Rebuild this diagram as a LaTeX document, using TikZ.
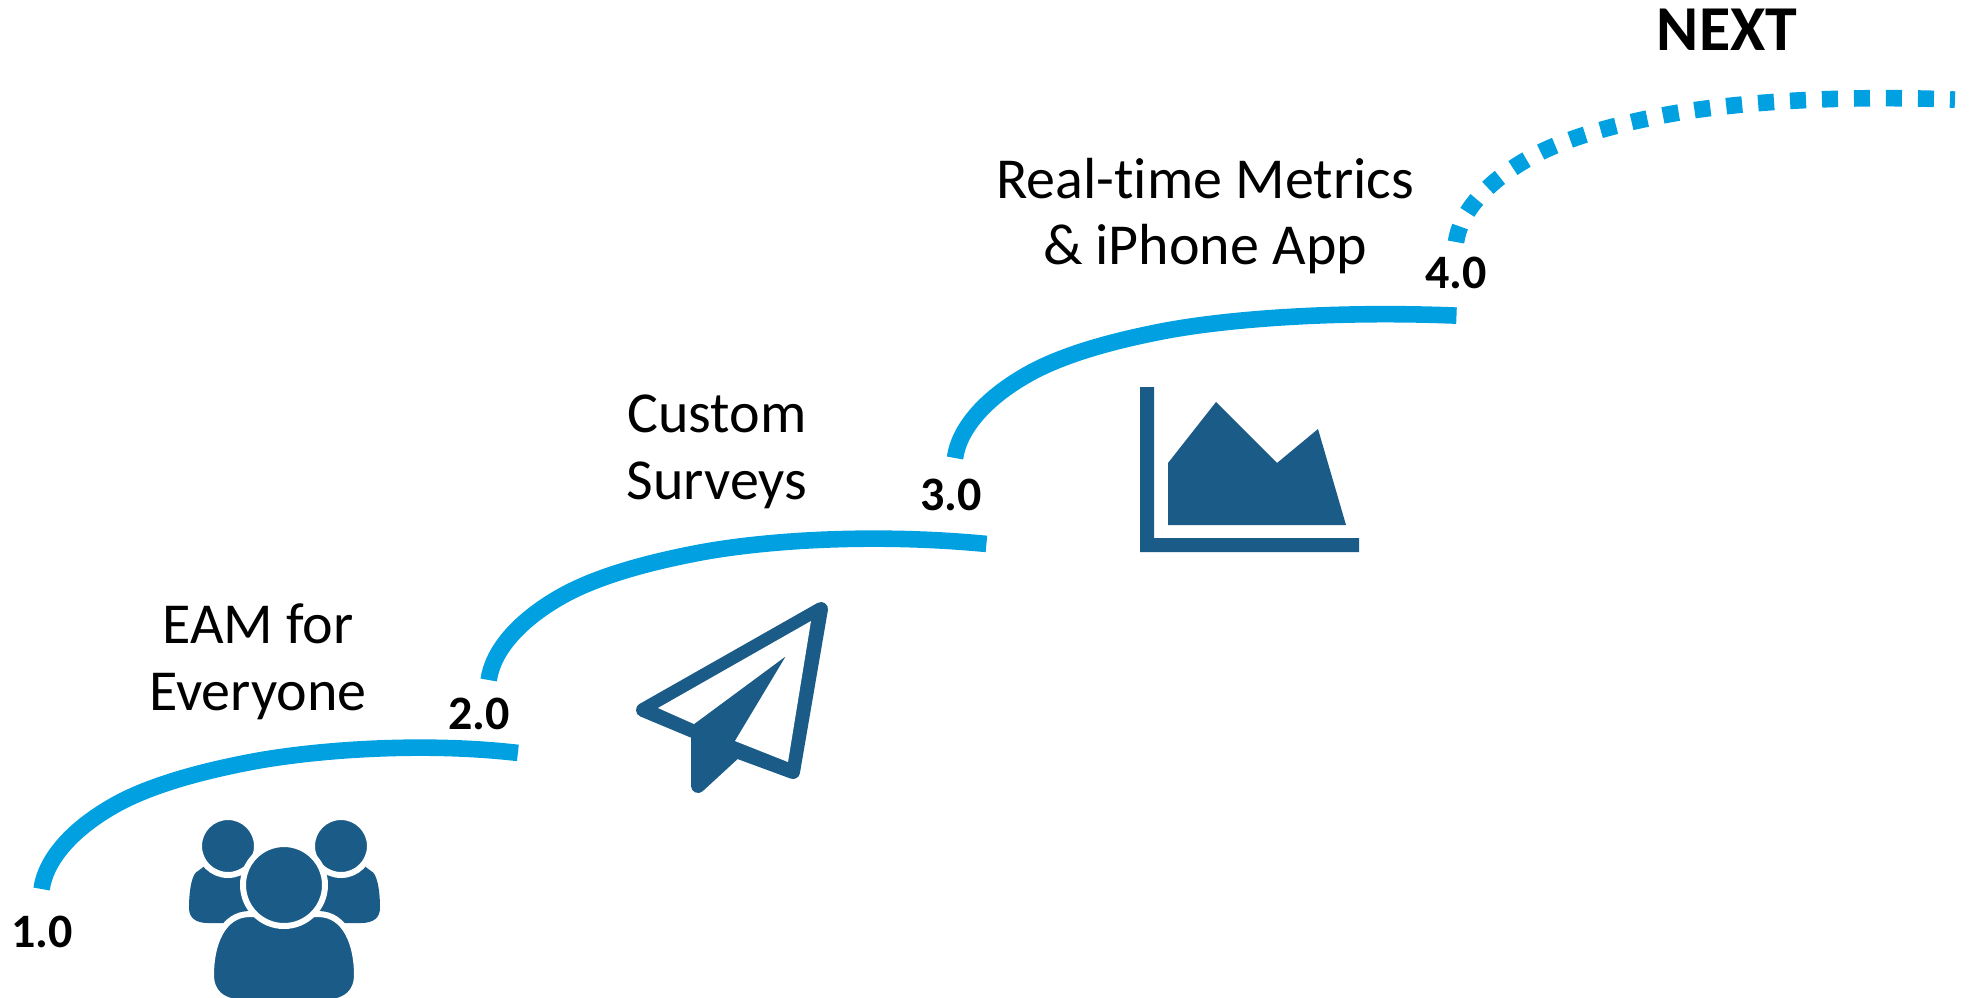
\documentclass[tikz,border=0pt]{standalone}
\usepackage{fontspec}
\setmainfont{Carlito}[Ligatures=NoCommon]
\definecolor{arcblue}{HTML}{00A0E1}
\definecolor{icondark}{HTML}{1B5B87}
\tikzset{
  arcline/.style={draw=arcblue,line width=8.3pt,line cap=butt},
  arcdots/.style={arcline,dash pattern=on 8pt off 8pt},
  version/.style={font=\fontsize{24}{28}\selectfont\bfseries,text=black,inner sep=0pt},
  release/.style={font=\fontsize{29}{33.4}\selectfont,text=black,align=center,inner sep=0pt},
  iconfill/.style={fill=icondark,draw=none},
  ringed/.style={fill=icondark,draw=white,line width=3pt}
}
\newcommand{\arcpath}[2]{%
  \begin{scope}[shift={(#1)},xscale=1.26,yscale=1.26]
    \path[#2] (0,0) .. controls (3,-22) and (22,-46) .. (57,-66)
      .. controls (85,-82) and (125,-93) .. (167,-101)
      .. controls (215,-110) and (300,-117) .. (\arcwd,-\archt);
  \end{scope}}
\begin{document}
\begin{tikzpicture}[x=.5pt,y=-.5pt]
\useasboundingbox (0,0) rectangle (1975,997);
% arcs
\def\arcwd{378}\def\archt{108}\arcpath{41.6,889}{arcline}
\def\arcwd{395}\def\archt{108}\arcpath{488.7,680}{arcline}
\def\arcwd{398}\def\archt{113}\arcpath{955,458}{arcline}
\def\arcwd{396}\def\archt{113}\arcpath{1456,242}{arcdots}
% labels
\node[version] (v1) at (42,932) {1.0};
\node[version] (v2) at (479,714) {2.0};
\node[version] (v3) at (951,495) {3.0};
\node[version] (v4) at (1456,273) {4.0};
\node[release] (r1) at (258,662) {EAM for\\Everyone};
\node[release] (r2) at (717,452) {Custom\\Surveys};
\node[release] (r3) at (1205,216) {Real-time Metrics\\\& iPhone App};
\node[font=\fontsize{32}{36}\selectfont\bfseries,text=black,inner sep=0pt] (next) at (1727,30) {NEXT};
% people icon
\path[iconfill] (215,858) -- (198,871) .. controls (192,873) and (189,890) .. (189,908)
  .. controls (189,918) and (196,923) .. (208,923) -- (260,923) -- (260,860) -- cycle;
\path[iconfill] (354,858) -- (371,871) .. controls (377,873) and (380,890) .. (380,908)
  .. controls (380,918) and (373,923) .. (361,923) -- (309,923) -- (309,860) -- cycle;
\path[ringed] (228,846) circle (29);
\path[ringed] (341,846) circle (29);
\path[ringed] (250,914) .. controls (222,914) and (211,945) .. (211,975)
  .. controls (211,992) and (222,1002) .. (240,1002) -- (328,1002)
  .. controls (346,1002) and (357,992) .. (357,975)
  .. controls (357,945) and (346,914) .. (318,914) -- cycle;
\path[ringed] (284,885) circle (41);
% plane icon
\path[fill=icondark,draw=icondark,line width=7pt,line join=round] (821,609) -- (643,710) -- (698,733) -- (698,786) -- (736,751) -- (793,772) -- cycle;
\path[fill=white] (658,708) -- (694,724) -- (786,656) -- (735,741) -- (788,762) -- (811,621) -- cycle;
% chart icon
\path[iconfill] (1140,387) -- (1154,387) -- (1154,538) -- (1359,538) -- (1359,552) -- (1140,552) -- cycle;
\path[iconfill] (1168,463) -- (1216,402) -- (1277,463) -- (1318,429) -- (1346,525) -- (1168,525) -- cycle;
\end{tikzpicture}
\end{document}
